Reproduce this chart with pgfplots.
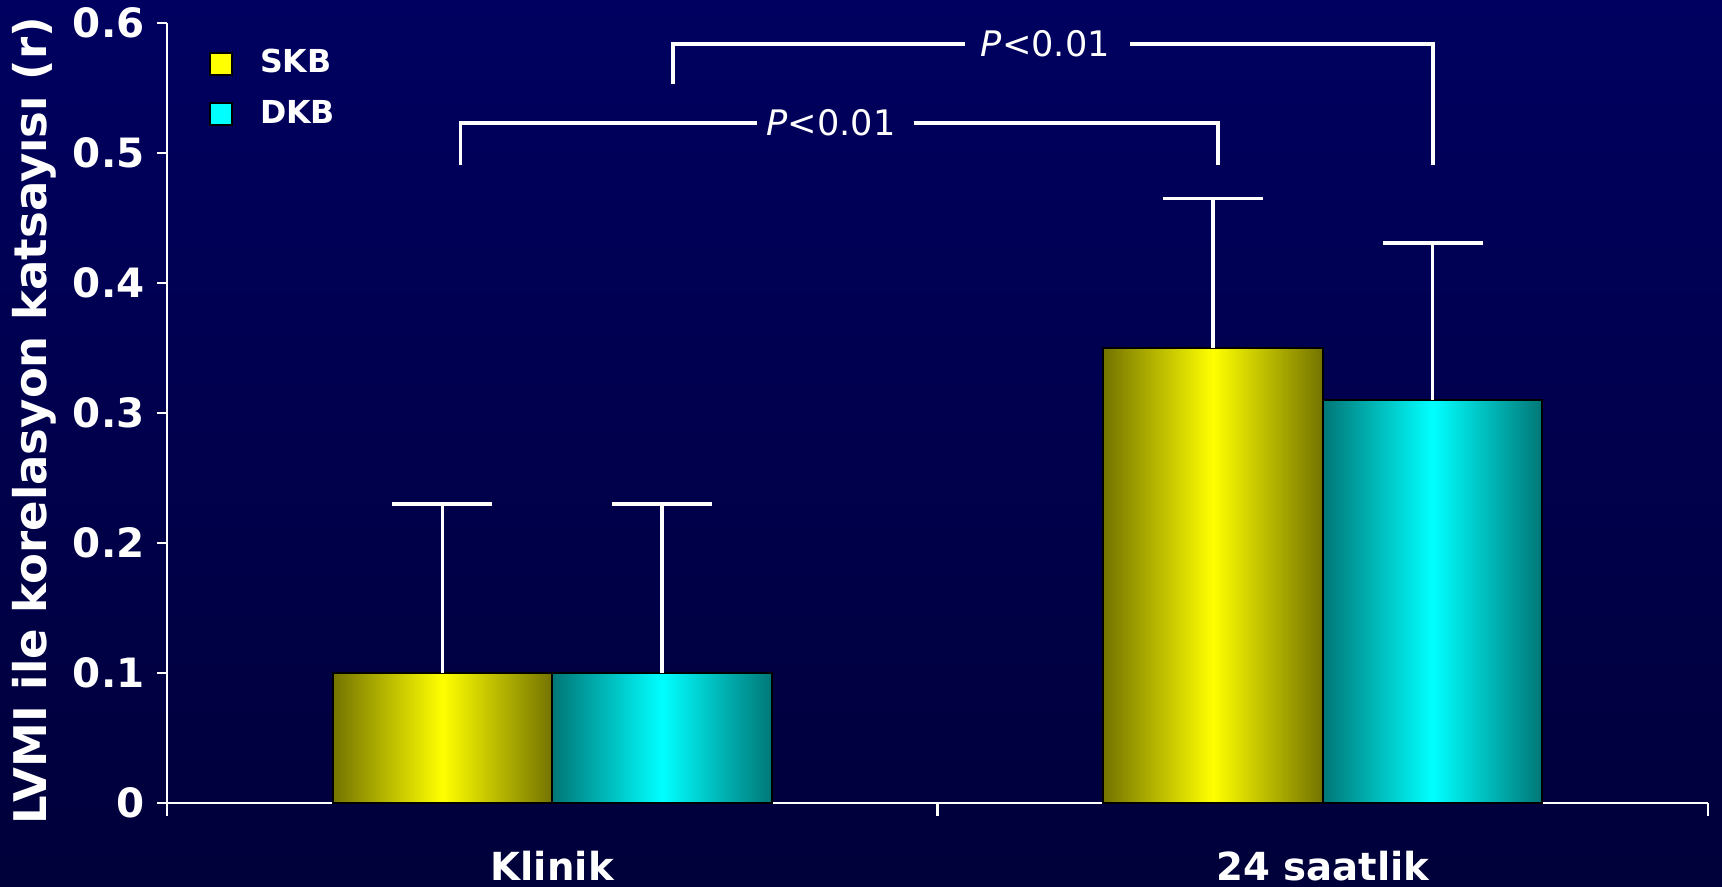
\documentclass[border=0pt]{standalone}
\usepackage{fontspec}
\setmainfont{DejaVu Sans}
\usepackage{pgfplots}
\pgfplotsset{compat=1.18}
\usetikzlibrary{backgrounds}
\definecolor{bgtop}{RGB}{0,0,96}
\definecolor{bgbot}{RGB}{0,0,58}
\definecolor{ydark}{RGB}{115,115,0}
\definecolor{ybright}{RGB}{255,255,0}
\definecolor{cdark}{RGB}{0,118,118}
\definecolor{cbright}{RGB}{0,255,255}
\pgfplotsset{
  errstyle/.style={error bars/y dir=plus, error bars/y explicit,
    error bars/error bar style={white, line width=1.1pt},
    error bars/error mark options={white, rotate=90, mark size=0.5cm, line width=1.1pt}},
  skb/.style={forget plot, ybar, bar width=0.285, bar shift=0,
    left color=ydark, right color=ydark, middle color=ybright, draw=black, line width=0.6pt,
    errstyle},
  dkb/.style={forget plot, ybar, bar width=0.285, bar shift=0,
    left color=cdark, right color=cdark, middle color=cbright, draw=black, line width=0.6pt,
    errstyle},
}
\begin{document}
\begin{tikzpicture}
\begin{axis}[
  at={(0,0)}, anchor=south west,
  scale only axis, width=15.41cm, height=7.80cm,
  xmin=-0.5, xmax=1.5, ymin=0, ymax=0.6,
  clip=false,
  axis x line*=bottom, axis y line*=left,
  axis line style={white, line width=0.6pt},
  xtick={0,1}, xticklabels={Klinik,24 saatlik},
  major x tick style={draw=none},
  minor xtick={-0.5,0.5,1.5},
  minor x tick style={white, line width=0.6pt},
  minor tick length=0.13cm,
  ytick={0,0.1,0.2,0.3,0.4,0.5,0.6},
  yticklabels={0,0.1,0.2,0.3,0.4,0.5,0.6},
  y tick style={white, line width=0.6pt},
  major tick length=0.1cm,
  tick align=outside,
  /pgf/number format/assume math mode=true,
  yticklabel style={text=white, font=\bfseries\fontsize{11.5}{13}\selectfont},
  xticklabel style={text=white, font=\bfseries\fontsize{11}{13}\selectfont, yshift=-0.26cm},
  ylabel={LVMI ile korelasyon katsayısı (r)},
  ylabel style={at={(axis description cs:-0.086,0.49)}, anchor=center, rotate=0, text=white, font=\bfseries\fontsize{12.8}{14}\selectfont},
  legend style={at={(axis description cs:0.02,0.985)}, anchor=north west, draw=none, fill=none, text=white, font=\bfseries\fontsize{9}{11}\selectfont, row sep=0.08cm,
    /tikz/every odd column/.append style={column sep=0.2cm}},
  legend cell align=left,
]
\addlegendimage{legend image code/.code={\draw[fill=ybright, draw=black, line width=0.6pt] (0cm,-0.11cm) rectangle (0.22cm,0.11cm);}}
\addlegendentry{SKB}
\addlegendimage{legend image code/.code={\draw[fill=cbright, draw=black, line width=0.6pt] (0cm,-0.11cm) rectangle (0.22cm,0.11cm);}}
\addlegendentry{DKB}
% SKB bars (plotted at category - 0.1425)
\addplot[skb] coordinates {(-0.1425,0.10) +- (0,0.13)};
\addplot[skb] coordinates {(0.8575,0.35) +- (0,0.115)};
% DKB bars (plotted at category + 0.1425)
\addplot[dkb] coordinates {(0.1425,0.10) +- (0,0.13)};
\addplot[dkb] coordinates {(1.1425,0.31) +- (0,0.121)};
\draw[white, line width=1.1pt] (axis cs:-0.119,0.491) |- (axis cs:0.266,0.523);
\draw[white, line width=1.1pt] (axis cs:0.469,0.523) -| (axis cs:0.864,0.491);
\node[text=white, font=\fontsize{10}{12}\selectfont, anchor=center] at (axis cs:0.362,0.523) {\textit{P}<0.01};
\draw[white, line width=1.1pt] (axis cs:0.157,0.553) |- (axis cs:0.536,0.584);
\draw[white, line width=1.1pt] (axis cs:0.750,0.584) -| (axis cs:1.143,0.491);
\node[text=white, font=\fontsize{10}{12}\selectfont, anchor=center] at (axis cs:0.640,0.584) {\textit{P}<0.01};
\end{axis}
\begin{scope}[on background layer]
\fill[top color=bgtop, middle color=bgtop, bottom color=bgbot] (-1.67cm,-0.84cm) rectangle (15.55cm,8.03cm);
\end{scope}
\pgfresetboundingbox
\path (-1.67cm,-0.84cm) rectangle (15.55cm,8.03cm);
\end{tikzpicture}
\end{document}
